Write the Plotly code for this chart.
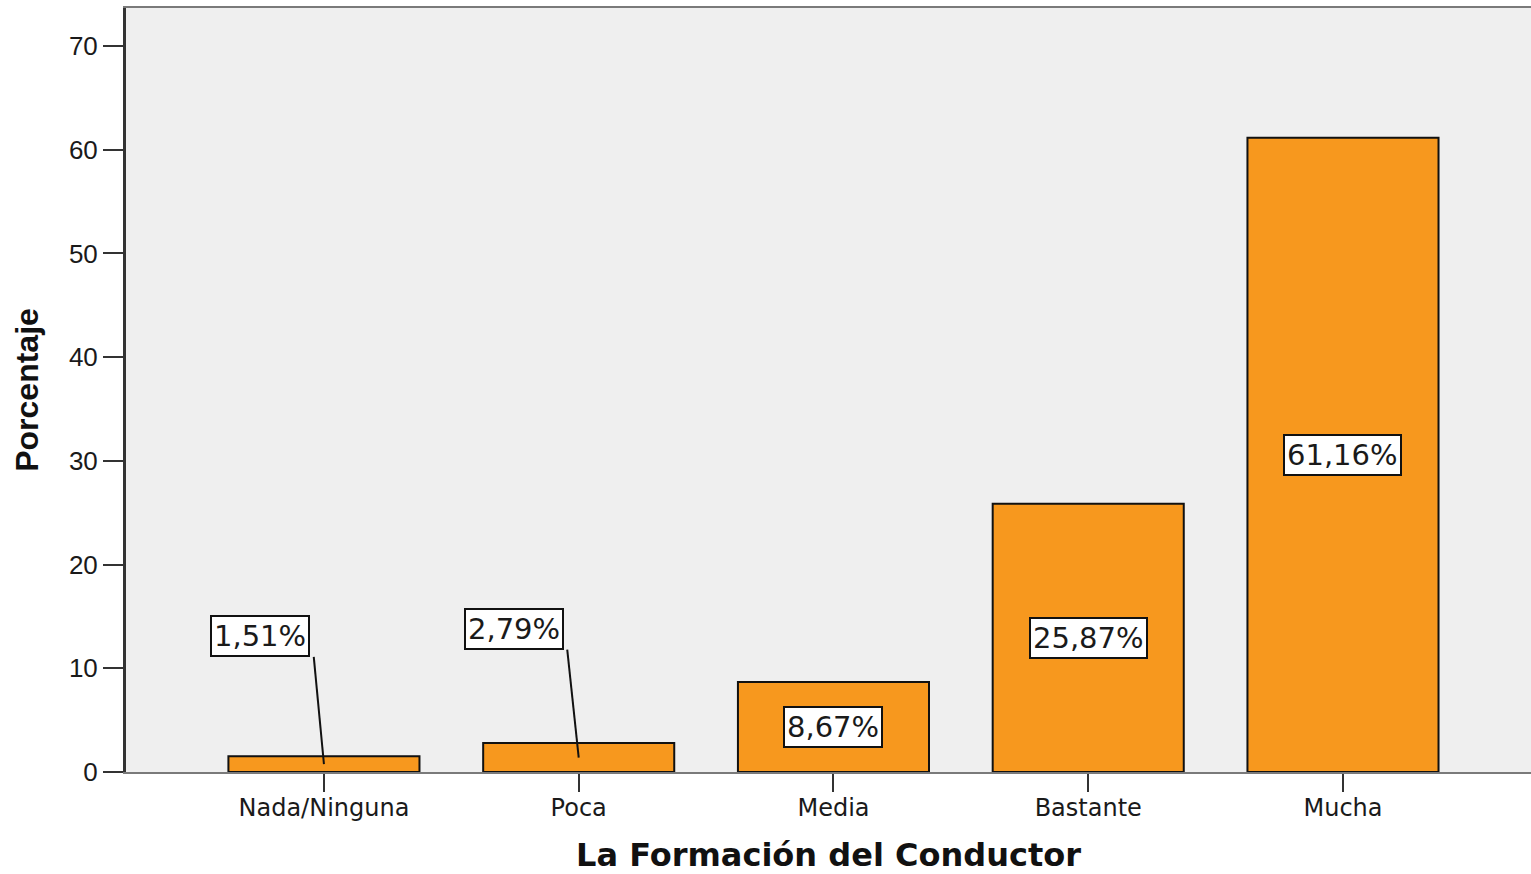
import plotly.graph_objects as go

# ---- data ----
categories = ["Nada/Ninguna", "Poca", "Media", "Bastante", "Mucha"]
percentages = [1.51, 2.79, 8.67, 25.87, 61.16]
value_labels = ["1,51%", "2,79%", "8,67%", "25,87%", "61,16%"]
y_tick_values = [0, 10, 20, 30, 40, 50, 60, 70]

# ---- label placement (layout, not data) ----
# small bars get their label lifted above the bar with a leader line
label_dx = [-0.25, -0.255, 0.0, 0.0, 0.0]
label_lift = [13.1, 13.8, None, None, None]
box_half_w = 0.21    # half box width in category units
box_half_h = 2.0     # half box height in y units

BAR_COLOR = "#F7981E"
LABEL_FONT = dict(family="DejaVu Sans", size=29, color="#1a1a1a")

x_idx = list(range(len(categories)))

fig = go.Figure()
fig.add_trace(go.Bar(
    x=x_idx,
    y=percentages,
    width=0.75,
    marker=dict(color=BAR_COLOR, line=dict(color="#111111", width=2)),
    hoverinfo="skip",
    showlegend=False,
))

annotations = []
shapes = []
for i, (v, lab) in enumerate(zip(percentages, value_labels)):
    if label_lift[i] is None:
        lx, ly = i + label_dx[i], v / 2
    else:
        lx, ly = i + label_dx[i], label_lift[i]
        shapes.append(dict(
            type="line", xref="x", yref="y",
            x0=lx + box_half_w, y0=ly - box_half_h,
            x1=i, y1=v / 2,
            line=dict(color="#111111", width=2),
        ))
    annotations.append(dict(
        x=lx, y=ly, xref="x", yref="y",
        text=lab, showarrow=False,
        font=LABEL_FONT,
        bgcolor="white", bordercolor="#111111", borderwidth=2, borderpad=2,
        xanchor="center", yanchor="middle",
    ))

fig.update_layout(
    width=1531, height=874,
    margin=dict(l=126, r=0, t=8, b=102),
    paper_bgcolor="white",
    plot_bgcolor="#EFEFEF",
    bargap=0.25,
    annotations=annotations,
    shapes=shapes,
    xaxis=dict(
        tickmode="array",
        tickvals=x_idx,
        ticktext=categories,
        range=[-0.777, 4.738],
        showgrid=False, zeroline=False,
        showline=True, mirror=True, linecolor="#7a7a7a", linewidth=2,
        ticks="outside", ticklen=18, tickwidth=2, tickcolor="#333333",
        ticklabelstandoff=-5,
        tickfont=dict(family="DejaVu Sans", size=24, color="#1a1a1a"),
        title=dict(
            text="<b>La Formación del Conductor</b>",
            font=dict(family="DejaVu Sans", size=32, color="#111111"),
            standoff=27,
        ),
        automargin=False,
    ),
    yaxis=dict(
        range=[0, 73.67],
        tickmode="array",
        tickvals=y_tick_values,
        showgrid=False, zeroline=False,
        showline=True, linecolor="#333333", linewidth=3,
        ticks="outside", ticklen=20, tickwidth=2, tickcolor="#333333",
        tickfont=dict(family="Liberation Sans", size=26, color="#1a1a1a"),
        title=dict(
            text="<b>Porcentaje</b>",
            font=dict(family="Liberation Sans", size=32, color="#111111"),
            standoff=21,
        ),
        automargin=False,
    ),
)

fig.write_html(
    "out.html",
    config={"displayModeBar": False},
    post_script="document.body.style.margin='0';",
)
